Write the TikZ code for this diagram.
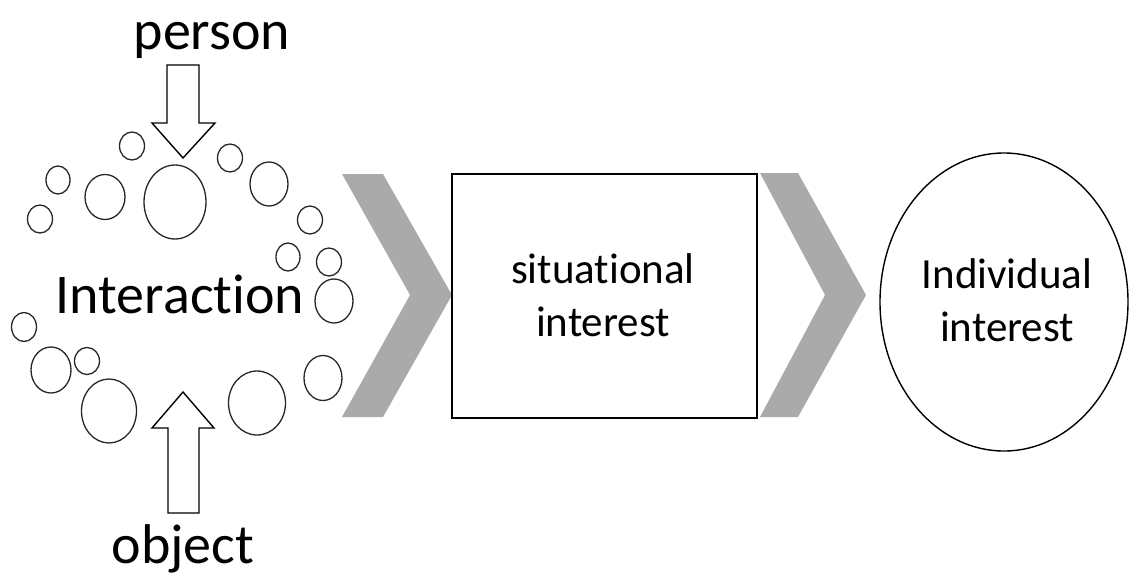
\documentclass[tikz,border=0pt]{standalone}
\usepackage{fontspec}
\setmainfont{Carlito}[Ligatures={NoCommon}]
\definecolor{chevgray}{RGB}{170,170,170}
\tikzset{
  outline/.style={draw=black, line width=1.4pt, fill=white},
  bubble/.style={draw=black!85, line width=1.3pt},
  chevron/.style={fill=chevgray, draw=none},
  bigword/.style={font=\fontsize{56}{67}\selectfont, anchor=base, inner sep=0pt},
  stagetext/.style={font=\fontsize{43}{53}\selectfont, align=center, inner sep=0pt},
}
\begin{document}
\begin{tikzpicture}[x=1pt,y=-1pt]
\useasboundingbox (0,0) rectangle (1130,578);

% bubbles around the interaction
\foreach \cx/\cy/\rx/\ry in {
  132/146/12.5/14, 58/180/12/14, 40/219/12.5/14, 105/197/20/22.5,
  175/202/31/37, 230/158/12.5/14, 269/184/19/22, 310/220/12.5/14,
  288/257/12/14, 329/262/12.5/14, 334/301/19/22,
  24/327/12.5/14.5, 51/370/20/23, 87/361/12.5/13.5, 109/411/27.5/32,
  257/403/28.5/32, 323/378/19/22.5}
  \draw[bubble] (\cx,\cy) ellipse [x radius=\rx pt, y radius=\ry pt];

% labels
\node[bigword] (person) at (212,50) {person};
\node[bigword] (interaction) at (180,313) {Interaction};
\node[bigword] (object) at (183,563) {object};

% block arrows: person pushes down, object pushes up
\draw[outline] (167,65) -- (199,65) -- (199,123) -- (215,123) -- (183,158)
  -- (152,123) -- (167,123) -- cycle;
\draw[outline] (183,392) -- (214,428) -- (199,428) -- (199,513) -- (168,513)
  -- (168,428) -- (152,428) -- cycle;

% stage chevrons
\fill[chevron] (342,174) -- (383,174) -- (452,295) -- (383,417) -- (342,417)
  -- (410,295) -- cycle;
\fill[chevron] (760,173) -- (798,173) -- (866,295) -- (798,417) -- (760,417)
  -- (825,295) -- cycle;

% situational interest stage
\draw[outline] (452,174) rectangle (757,418);
\node[stagetext] (situational) at (603,295) {situational\\interest};

% individual interest stage
\draw[outline] (1004,302) ellipse [x radius=124pt, y radius=149pt];
\node[stagetext] (individual) at (1007,300) {Individual\\interest};
\end{tikzpicture}
\end{document}
